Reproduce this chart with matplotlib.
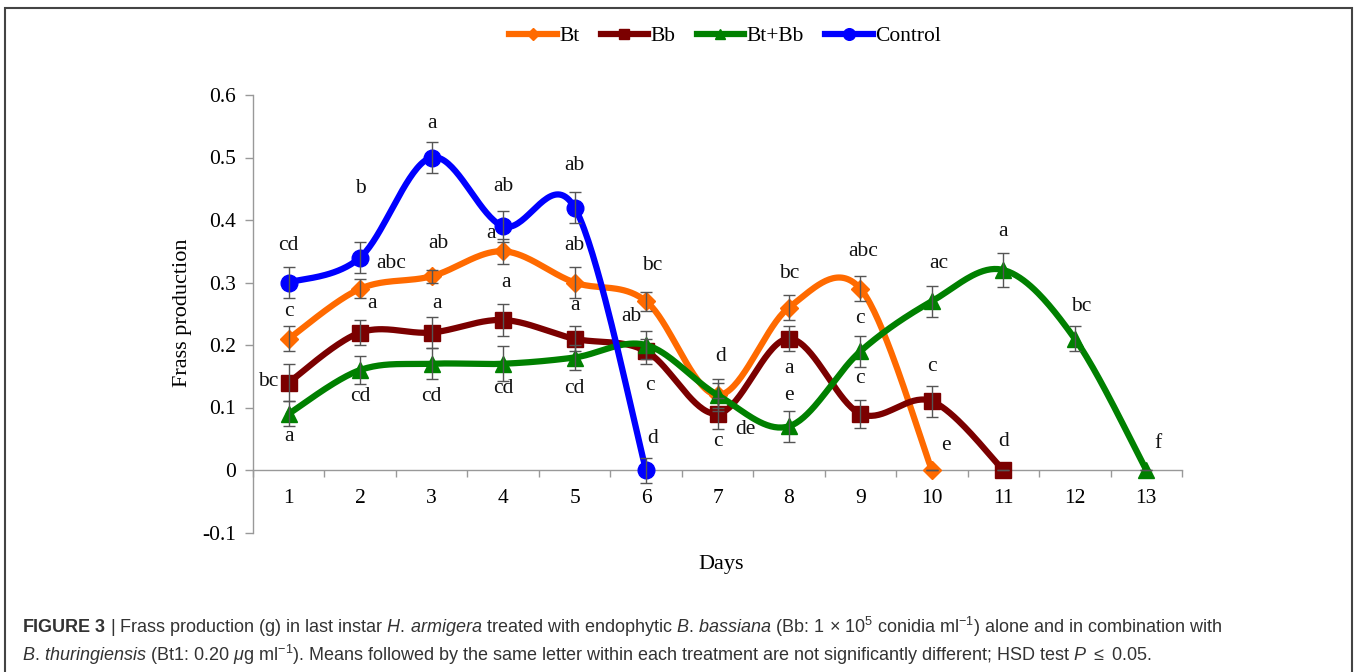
import numpy as np
import matplotlib
matplotlib.use('Agg')
import matplotlib.pyplot as plt
from matplotlib import font_manager
from matplotlib.patches import Rectangle

# data
days_bt = [1, 2, 3, 4, 5, 6, 7, 8, 9, 10]
bt = [0.21, 0.29, 0.31, 0.35, 0.30, 0.27, 0.12, 0.26, 0.29, 0.0]
bt_err = [0.02, 0.015, 0.01, 0.02, 0.025, 0.015, 0.02, 0.02, 0.02, 0.0]
bt_letters = ['c', 'abc', 'ab', 'a', 'ab', 'bc', 'd', 'bc', 'abc', 'e']

days_bb = [1, 2, 3, 4, 5, 6, 7, 8, 9, 10, 11]
bb = [0.14, 0.22, 0.22, 0.24, 0.21, 0.19, 0.09, 0.21, 0.09, 0.11, 0.0]
bb_err = [0.03, 0.02, 0.025, 0.025, 0.02, 0.02, 0.025, 0.02, 0.022, 0.025, 0.0]
bb_letters = ['bc', 'a', 'a', 'a', 'a', 'c', 'c', 'a', 'c', 'c', 'd']

days_btbb = [1, 2, 3, 4, 5, 6, 7, 8, 9, 10, 11, 12, 13]
btbb = [0.09, 0.16, 0.17, 0.17, 0.18, 0.20, 0.12, 0.07, 0.19, 0.27, 0.32, 0.21, 0.0]
btbb_err = [0.02, 0.022, 0.025, 0.028, 0.02, 0.022, 0.025, 0.025, 0.025, 0.025, 0.027, 0.02, 0.0]
btbb_letters = ['a', 'cd', 'cd', 'cd', 'cd', 'ab', 'de', 'e', 'c', 'ac', 'a', 'bc', 'f']

days_ctrl = [1, 2, 3, 4, 5, 6]
ctrl = [0.30, 0.34, 0.50, 0.39, 0.42, 0.0]
ctrl_err = [0.025, 0.025, 0.025, 0.025, 0.025, 0.02]
ctrl_letters = ['cd', 'b', 'a', 'ab', 'ab', 'd']

# label placement (offset from the point, data units)
bt_off = [(0, 0.043), (0.43, 0.04), (0.09, 0.053), (-0.17, 0.029), (0, 0.06),
          (0.08, 0.058), (0.04, 0.061), (0, 0.055), (0.04, 0.06), (0.19, 0.04)]
bb_off = [(-0.29, 0.002), (0.16, 0.047), (0.07, 0.047), (0.04, 0.06), (0, 0.054),
          (0.06, -0.054), (0, -0.045), (0, -0.047), (0, 0.056), (0, 0.055), (0, 0.046)]
btbb_off = [(0, -0.037), (0, -0.043), (0, -0.053), (0, -0.039), (0, -0.049),
            (-0.2, 0.045), (0.39, -0.056), (0, 0.05), (0, 0.053), (0.09, 0.061),
            (0, 0.061), (0.09, 0.052), (0.16, 0.042)]
ctrl_off = [(0, 0.06), (0, 0.111), (0, 0.055), (0, 0.063), (0, 0.068), (0.09, 0.051)]


def smooth(x, y, n=40):
    """Excel-like smoothed line (Catmull-Rom as cubic Bezier)."""
    pts = np.column_stack([x, y]).astype(float)
    P = np.vstack([pts[0], pts, pts[-1]])
    t = np.linspace(0, 1, n)[:, None]
    out = []
    for i in range(len(pts) - 1):
        p0, p1, p2, p3 = P[i], P[i + 1], P[i + 2], P[i + 3]
        c1 = p1 + (p2 - p0) / 6
        c2 = p2 - (p3 - p1) / 6
        seg = ((1 - t) ** 3) * p1 + 3 * ((1 - t) ** 2) * t * c1 + 3 * (1 - t) * t ** 2 * c2 + t ** 3 * p2
        out.append(seg if i == 0 else seg[1:])
    out = np.vstack(out)
    return out[:, 0], out[:, 1]


serif = 'Liberation Serif'
names = {f.name for f in font_manager.fontManager.ttflist}
cap_font = 'Liberation Sans Narrow' if 'Liberation Sans Narrow' in names else 'Liberation Sans'

plt.rcParams['font.family'] = [serif, 'DejaVu Serif']
plt.rcParams['mathtext.fontset'] = 'custom'
plt.rcParams['mathtext.rm'] = cap_font
plt.rcParams['mathtext.it'] = cap_font + ':italic'
plt.rcParams['mathtext.bf'] = cap_font + ':bold'

W, H = 1357, 672
fig = plt.figure(figsize=(W / 100, H / 100), dpi=100)
ax = fig.add_axes([253 / W, 1 - 532.5 / H, (1182 - 253) / W, (532.5 - 95) / H])

series = [
    ('Bt', days_bt, bt, bt_err, bt_letters, bt_off, '#FF6A00', 'D', 9),
    ('Bb', days_bb, bb, bb_err, bb_letters, bb_off, '#7B0000', 's', 11),
    ('Bt+Bb', days_btbb, btbb, btbb_err, btbb_letters, btbb_off, '#008000', '^', 11),
    ('Control', days_ctrl, ctrl, ctrl_err, ctrl_letters, ctrl_off, '#0000FF', 'o', 12),
]

handles = []
for k, (name, xd, yd, err, letters, offs, col, mk, ms) in enumerate(series):
    sx, sy = smooth(xd, yd)
    ax.plot(sx, sy, color=col, lw=4.5, zorder=3 + k, solid_capstyle='round')
    ax.plot(xd, yd, ls='none', marker=mk, color=col, ms=ms, zorder=3 + k)
    ax.errorbar(xd, yd, yerr=err, fmt='none', ecolor='#555555', elinewidth=1,
                capsize=4, capthick=1, zorder=10)
    for xi, yi, lab, (dx, dy) in zip(xd, yd, letters, offs):
        ax.text(xi + dx, yi + dy, lab, ha='center', va='center', fontsize=15.5,
                color='#111111', zorder=12)
    h, = ax.plot([], [], color=col, lw=4.5, marker=mk, ms=ms * 0.7, label=name)
    handles.append(h)

ax.set_xlim(0.5, 13.5)
ax.set_ylim(-0.1, 0.6)
ax.set_yticks(np.arange(-0.1, 0.61, 0.1))
ax.set_yticklabels(['-0.1', '0', '0.1', '0.2', '0.3', '0.4', '0.5', '0.6'])
ax.set_xticks(np.arange(0.5, 13.6, 1))
ax.set_xticklabels([])
ax.set_xticks(range(1, 14), minor=True)
ax.set_xticklabels([str(d) for d in range(1, 14)], minor=True)
ax.tick_params(axis='x', which='major', length=5, width=1, color='#999999', direction='out')
ax.tick_params(axis='x', which='minor', length=0, pad=14, labelsize=15.5)
ax.tick_params(axis='y', length=6, width=1, color='#999999', pad=6, labelsize=15.5)

for s in ['top', 'right']:
    ax.spines[s].set_visible(False)
ax.spines['bottom'].set_position(('data', 0))
ax.spines['left'].set_color('#999999')
ax.spines['bottom'].set_color('#999999')
ax.spines['left'].set_linewidth(1)
ax.spines['bottom'].set_linewidth(1)

fig.text(182 / W, 1 - 313 / H, 'Frass production', rotation=90, ha='center', va='center',
         fontsize=16)
fig.text(721 / W, 1 - 565 / H, 'Days', ha='center', va='center', fontsize=16)

fig.legend(handles=handles, loc='center', bbox_to_anchor=(725 / W, 1 - 36 / H), ncol=4,
           frameon=False, fontsize=15.5, handlelength=2.2, handletextpad=0.1,
           columnspacing=1.0)

# outer frame and caption
fig.patches.append(Rectangle((5 / W, -0.05), (1352 - 5) / W, 1.05 - 8 / H,
                             transform=fig.transFigure, fill=False, lw=1.5,
                             edgecolor='#444444'))
cap1 = (r'$\mathbf{FIGURE\ 3}$ | Frass production (g) in last instar $\mathit{H.\,armigera}$ '
        r'treated with endophytic $\mathit{B.\,bassiana}$ (Bb: 1 $\times$ 10$^5$ conidia ml$^{-1}$) '
        r'alone and in combination with')
cap2 = (r'$\mathit{B.\,thuringiensis}$ (Bt1: 0.20 $\mu$g ml$^{-1}$). Means followed by the same '
        r'letter within each treatment are not significantly different; HSD test $\mathit{P}$ $\leq$ 0.05.')
fig.text(22 / W, 1 - 627 / H, cap1, ha='left', va='center', fontsize=13,
         family=[cap_font, 'DejaVu Sans'], color='#333333')
fig.text(22 / W, 1 - 655 / H, cap2, ha='left', va='center', fontsize=13,
         family=[cap_font, 'DejaVu Sans'], color='#333333')

fig.savefig('out.png', dpi=100)
